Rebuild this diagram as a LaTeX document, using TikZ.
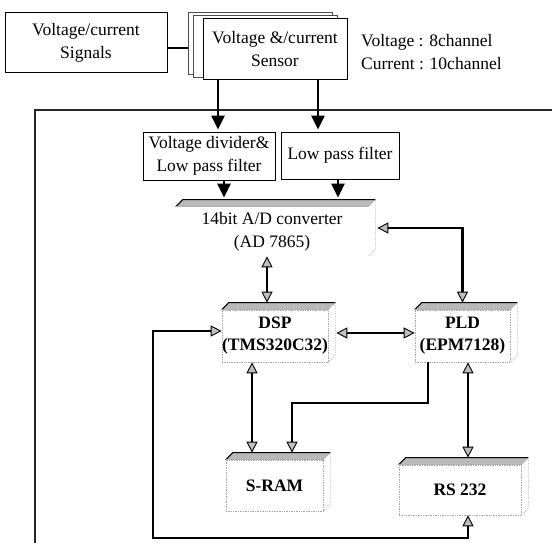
\documentclass[tikz,border=0pt]{standalone}
\usepackage{fontspec}
\setmainfont{Liberation Serif}
\usetikzlibrary{arrows.meta,calc}
\tikzset{
  plain/.style={draw=black, line width=1pt, fill=white, inner sep=0pt, align=center, font=\fontsize{17.5}{23}\selectfont},
  front/.style={draw=gray!70, densely dotted, line width=0.7pt, inner sep=0pt, align=center, font=\bfseries\fontsize{17.5}{22}\selectfont},
  bigarrow/.style={line width=2.6pt, -{Triangle[length=14pt,width=13pt]}},
  link/.style={line width=2.6pt, draw=black},
  gtip/.tip={Triangle[length=11pt,width=11pt,fill=gray!50,line width=0.9pt]},
  dbl/.style={link, gtip-gtip},
  sgl/.style={link, -gtip},
}
\newcommand\cubeparts[2][7]{%
  \fill[gray!55] (#2.north west) -- ++(#1,-#1) -- ($(#2.north east)+(#1,-#1)$) -- (#2.north east) -- cycle;
  \draw[line width=1pt] (#2.north west) -- ++(#1,-#1) -- ($(#2.north east)+(#1,-#1)$);
  \draw[gray!70, densely dotted, line width=0.7pt] (#2.north east) -- ($(#2.north east)+(#1,-#1)$) -- ($(#2.south east)+(#1,-#1)$) -- (#2.south east);
  \draw[gray!60, line width=0.7pt] (#2.north west) -- (#2.north east);
}
\begin{document}
\begin{tikzpicture}[x=1pt,y=-1pt]
\useasboundingbox (0,0) rectangle (552,543);

% top part
\node[plain, minimum width=162pt, minimum height=60pt] (sig) at (86,43) {Voltage/current\\Signals};
\node[plain, draw=black!70, minimum width=144pt, minimum height=62pt] (sback) at (260,44) {};
\node[plain, draw=black!70, minimum width=144pt, minimum height=62pt] (smid) at (265,47) {};
\node[plain, minimum width=144pt, minimum height=61pt] (sfront) at (275,49.5) {Voltage \&/current\\Sensor};
\draw[line width=2.6pt] (sig.east |- 0,48) -- (sback.west |- 0,48);
\node[font=\fontsize{17.5}{22}\selectfont, anchor=west, inner sep=0pt] (vtxt) at (361,42) {Voltage : 8channel};
\node[font=\fontsize{17.5}{22}\selectfont, anchor=west, inner sep=0pt] (ctxt) at (361,64) {Current : 10channel};

% frame
\draw[line width=1.1pt, black!85] (35,543) -- (35,110) -- (552,110);

% filters
\node[plain, minimum width=132pt, minimum height=48pt] (vd) at (209,156) {Voltage divider\&\\Low pass filter};
\node[plain, minimum width=118pt, minimum height=47pt] (lpf) at (340,155.5) {Low pass filter};

% 3D boxes
\node[front, draw=none, font=\fontsize{17.5}{23}\selectfont, minimum width=192pt, minimum height=49pt] (ad) at (272,231.5) {14bit A/D converter\\(AD 7865)};
\cubeparts{ad}
\node[front, minimum width=100pt, minimum height=52pt] (dsp) at (275,336) {DSP\\(TMS320C32)};
\cubeparts{dsp}
\node[front, minimum width=95pt, minimum height=52pt] (pld) at (462.5,336) {PLD\\(EPM7128)};
\cubeparts{pld}
\node[front, minimum width=97pt, minimum height=51pt] (sram) at (274.5,485.5) {S-RAM};
\cubeparts{sram}
\node[front, minimum width=122pt, minimum height=50pt] (rs) at (460,490) {RS 232};
\cubeparts{rs}

\coordinate (adtop) at ($(ad.north)+(0,-7)$);
\coordinate (adR) at ($(ad.east)+(9,-3.5)$);
\coordinate (pldtop) at ($(pld.north)+(0,-7)$);
\coordinate (dsptop) at ($(dsp.north)+(0,-7)$);
\coordinate (dspR) at ($(dsp.east)+(8,-3)$);
\coordinate (sramtop) at ($(sram.north)+(0,-7)$);
\coordinate (rstop) at ($(rs.north)+(0,-7)$);
\coordinate (jog) at (360,403);
\coordinate (loopc) at (153,538);

% upper arrows
\draw[bigarrow, shorten >=2pt] ([xshift=9pt]vd.north |- sfront.south) -- ([xshift=9pt]vd.north);
\draw[bigarrow, shorten >=2pt] ([xshift=-22pt]lpf.north |- sfront.south) -- ([xshift=-22pt]lpf.north);
\draw[bigarrow, shorten >=2pt] ([xshift=15pt]vd.south) -- ([xshift=15pt]vd.south |- adtop);
\draw[bigarrow, shorten >=2pt] ([xshift=-2pt]lpf.south) -- ([xshift=-2pt]lpf.south |- adtop);

% lower connectors
\draw[dbl] (adR) -| (pldtop);
\draw[dbl, line width=1.6pt] ([xshift=-8pt]dsp.north |- ad.south) -- ([xshift=-8pt]dsptop);
\draw[dbl] (dspR) -- (dspR -| pld.west);
\draw[dbl] ([xshift=-23pt]dsp.south) -- ([xshift=-23pt]dsp.south |- sramtop);
\draw[sgl] ([xshift=-34.5pt]pld.south) |- (jog) -| ([xshift=17.5pt]sramtop);
\draw[dbl] ([xshift=5.5pt]pld.south) -- ([xshift=5.5pt]pld.south |- rstop);
\draw[dbl] ([yshift=5pt]dsp.west) -| (loopc) -| ([xshift=8pt]rs.south);
\end{tikzpicture}
\end{document}
